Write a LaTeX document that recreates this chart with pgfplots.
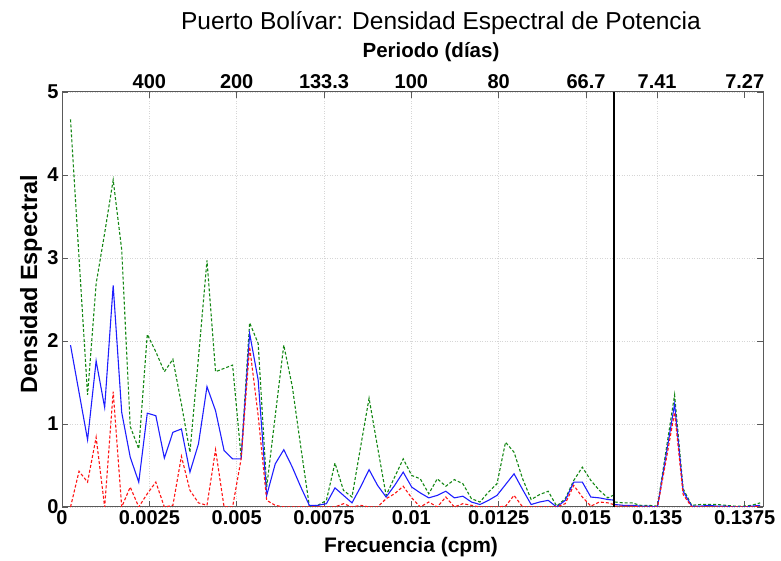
\documentclass[border=0pt]{standalone}
\usepackage{fontspec}
\setmainfont{Liberation Sans}
\usepackage{pgfplots}
\usepackage{pgfplotstable}
\pgfplotsset{compat=1.18}
\definecolor{mgreen}{RGB}{20,135,20}
\definecolor{mblue}{RGB}{30,30,255}
\definecolor{mred}{RGB}{255,20,20}
\definecolor{frame}{RGB}{90,90,90}

% f  B  G  R   (B: estimate, G: upper limit, R: lower limit)
\pgfplotstableread{
f B G R
0.000244 1.95 4.67 0
0.000488 1.38 3.00 0.43
0.000732 0.81 1.35 0.30
0.000977 1.76 2.69 0.84
0.001221 1.20 3.30 0
0.001465 2.67 3.94 1.39
0.001709 1.14 3.10 0
0.001953 0.60 0.97 0.24
0.002197 0.30 0.70 0
0.002441 1.13 2.08 0.16
0.002686 1.10 1.87 0.30
0.002930 0.59 1.63 0
0.003174 0.90 1.78 0.02
0.003418 0.94 1.24 0.61
0.003662 0.42 0.66 0.20
0.003906 0.76 1.80 0.05
0.004150 1.45 2.97 0.02
0.004395 1.16 1.63 0.69
0.004639 0.68 1.67 0
0.004883 0.58 1.71 0
0.005127 0.58 0.60 0.58
0.005371 2.09 2.22 1.93
0.005615 1.53 1.97 1.10
0.005859 0.14 0.24 0.08
0.006104 0.52 1.10 0.02
0.006348 0.69 1.95 0
0.006592 0.48 1.45 0
0.006836 0.24 0.72 0
0.007080 0.02 0.01 0
0.007324 0.02 0.02 0
0.007568 0.04 0.08 0
0.007813 0.23 0.53 0
0.008057 0.14 0.20 0.04
0.008301 0.05 0.12 0
0.008545 0.24 0.72 0.02
0.008789 0.45 1.31 0
0.009033 0.26 0.72 0
0.009277 0.12 0.14 0.10
0.009521 0.26 0.36 0.16
0.009766 0.42 0.58 0.25
0.010010 0.24 0.38 0.11
0.010254 0.17 0.34 0
0.010498 0.11 0.16 0.06
0.010742 0.14 0.34 0
0.010986 0.19 0.25 0.12
0.011230 0.11 0.33 0
0.011475 0.13 0.28 0.04
0.011719 0.06 0.10 0.02
0.011963 0.03 0.06 0
0.012207 0.08 0.18 0
0.012451 0.14 0.28 0
0.012695 0.27 0.78 0.01
0.012939 0.40 0.66 0.14
0.013184 0.21 0.34 0
0.013428 0.03 0.09 0
0.013672 0.06 0.15 0
0.013916 0.08 0.19 0
0.014160 0.00 0.01 0
0.014404 0.08 0.10 0.04
0.014648 0.30 0.32 0.26
0.014893 0.30 0.48 0.12
0.015137 0.12 0.32 0.01
0.015381 0.11 0.20 0.06
0.015625 0.09 0.11 0.05
0.015869 0.08 0.16 0.02
}\lefttable

\pgfplotstableread{
f B G R
0.133789 0.03 0.06 0.01
0.134033 0.02 0.05 0.01
0.134277 0.02 0.05 0.01
0.134521 0.01 0.02 0
0.134766 0.01 0.02 0
0.135010 0.00 0.01 0
0.135254 0.62 0.68 0.56
0.135498 1.24 1.35 1.14
0.135742 0.19 0.22 0.15
0.135986 0.01 0.02 0
0.136230 0.01 0.03 0
0.136475 0.02 0.03 0
0.136719 0.01 0.03 0
0.136963 0.01 0.02 0
0.137207 0.00 0.01 0
0.137451 0.00 0.01 0
0.137695 0.01 0.02 0
0.137939 0.02 0.05 0.01
}\righttable

\pgfplotsset{
  panel/.style={
    scale only axis, height=415pt, ymin=0, ymax=5,
    anchor=south west,
    scaled x ticks=false, scaled y ticks=false,
    axis line style={draw=frame, line width=1pt},
    tick style={draw=frame, line width=0.9pt},
    major tick length=6pt, tick align=inside,
    ticklabel style={font=\bfseries\fontsize{20}{24}\selectfont, text=black},
    grid=major,
    major grid style={draw=black!16, line width=0.6pt, dash pattern=on 1pt off 1.5pt},
    ytick={0,1,2,3,4,5},
    clip=true,
  },
  toppanel/.style={
    scale only axis, height=415pt, ymin=0, ymax=5,
    anchor=south west,
    scaled x ticks=false,
    hide y axis, axis x line*=top,
    x axis line style={draw=none, -},
    major tick length=0pt,
    xticklabel style={font=\bfseries\fontsize{20}{24}\selectfont, text=black},
  },
  gstyle/.style={draw=mgreen, line width=1.1pt, dash pattern=on 3pt off 2pt, no markers},
  bstyle/.style={draw=mblue, line width=1.1pt, no markers},
  rstyle/.style={draw=mred, line width=1.1pt, dash pattern=on 3pt off 2pt, no markers},
}

\begin{document}
\begin{tikzpicture}
\useasboundingbox (0pt,0pt) rectangle (781pt,561pt);

% left panel
\begin{axis}[panel, at={(62pt,54pt)}, width=552pt,
  xmin=0, xmax=0.0158,
  xtick={0,0.0025,0.005,0.0075,0.01,0.0125,0.015},
  xticklabels={0,0.0025,0.005,0.0075,0.01,0.0125,0.015},
  yticklabels={0,1,2,3,4,5},
  xtick pos=both, ytick pos=left, xticklabel pos=lower]
\addplot[gstyle] table[x=f,y=G]{\lefttable};
\addplot[bstyle] table[x=f,y=B]{\lefttable};
\addplot[rstyle] table[x=f,y=R]{\lefttable};
\end{axis}
\begin{axis}[toppanel, at={(62pt,54pt)}, width=552pt,
  xmin=0, xmax=0.0158,
  xtick={0.0025,0.005,0.0075,0.01,0.0125,0.015},
  xticklabels={400,200,133.3,100,80,66.7}]
\end{axis}

% right panel
\begin{axis}[panel, at={(614pt,54pt)}, width=149pt,
  xmin=0.13377, xmax=0.13802,
  xtick={0.135}, xticklabels={0.135},
  extra x ticks={0.1375}, extra x tick labels={0.1375},
  extra x tick style={grid=none},
  yticklabels={}, xtick pos=both, ytick pos=right, xticklabel pos=lower]
\addplot[gstyle] table[x=f,y=G]{\righttable};
\addplot[bstyle] table[x=f,y=B]{\righttable};
\addplot[rstyle] table[x=f,y=R]{\righttable};
\end{axis}
\begin{axis}[toppanel, at={(614pt,54pt)}, width=149pt,
  xmin=0.13377, xmax=0.13802,
  xtick={0.135,0.1375}, xticklabels={7.41,7.27}]
\end{axis}

% separator
\draw[black, line width=1.8pt] (614pt,54pt) -- (614pt,469pt);

% texts
\node[anchor=base, font=\fontsize{24.5}{28}\selectfont] at (441pt,531pt)
  {Puerto Bolívar: Densidad Espectral de Potencia};
\node[anchor=base, font=\bfseries\fontsize{20.5}{24}\selectfont] at (431pt,503pt)
  {Periodo (días)};
\node[anchor=base, font=\bfseries\fontsize{21}{24}\selectfont] at (411pt,8pt)
  {Frecuencia (cpm)};
\node[anchor=base, rotate=90, font=\bfseries\fontsize{23.5}{26}\selectfont] at (37pt,277pt)
  {Densidad Espectral};
\end{tikzpicture}
\end{document}
